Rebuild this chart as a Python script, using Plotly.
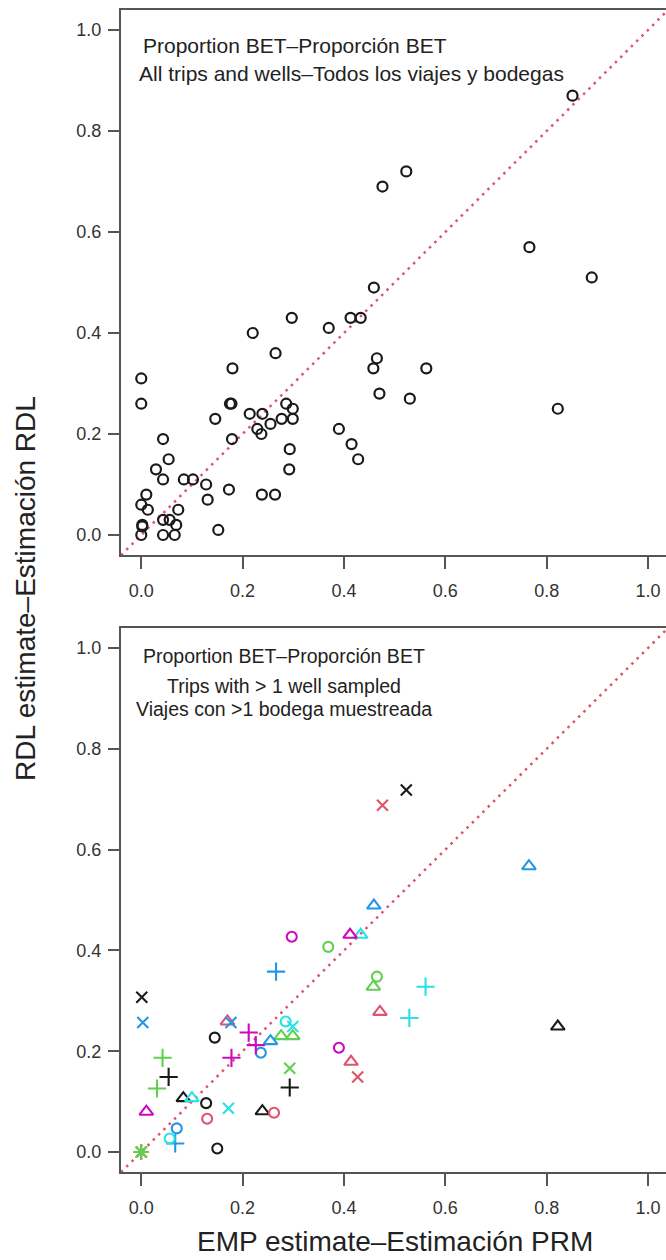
import plotly.graph_objects as go

# ---------------- data ----------------
# Top panel: all trips and wells (EMP estimate, RDL estimate)
top_emp = [0.0, 0.0, 0.18, 0.265, 0.22, 0.297, 0.37, 0.413, 0.433, 0.459,
           0.465, 0.458, 0.47, 0.766, 0.889, 0.5625, 0.53, 0.822, 0.523, 0.476,
           0.851, 0.175, 0.178, 0.286, 0.299, 0.146, 0.214, 0.239, 0.277, 0.299,
           0.255, 0.229, 0.237, 0.179, 0.043, 0.39, 0.415, 0.428, 0.293, 0.292,
           0.054, 0.029, 0.043, 0.084, 0.102, 0.128, 0.131, 0.173, 0.238, 0.264,
           0.152, 0.01, 0.0, 0.013, 0.073, 0.002, 0.002, 0.0, 0.043, 0.056,
           0.069, 0.043, 0.066]
top_rdl = [0.31, 0.26, 0.33, 0.36, 0.40, 0.43, 0.41, 0.43, 0.43, 0.49,
           0.35, 0.33, 0.28, 0.57, 0.51, 0.33, 0.27, 0.25, 0.72, 0.69,
           0.87, 0.26, 0.26, 0.26, 0.25, 0.23, 0.24, 0.24, 0.23, 0.23,
           0.22, 0.21, 0.20, 0.19, 0.19, 0.21, 0.18, 0.15, 0.17, 0.13,
           0.15, 0.13, 0.11, 0.11, 0.11, 0.10, 0.07, 0.09, 0.08, 0.08,
           0.01, 0.08, 0.06, 0.05, 0.05, 0.02, 0.017, 0.0, 0.03, 0.03,
           0.02, 0.0, 0.0]

# Bottom panel: trips with > 1 well sampled, by group (colour, symbol)
blk_x_emp = [0.001, 0.523];            blk_x_rdl = [0.307, 0.718]
blk_o_emp = [0.145, 0.128, 0.150];     blk_o_rdl = [0.227, 0.097, 0.007]
blk_t_emp = [0.083, 0.239, 0.822];     blk_t_rdl = [0.107, 0.081, 0.249]
blk_p_emp = [0.054, 0.293];            blk_p_rdl = [0.149, 0.128]

red_x_emp = [0.476, 0.427];            red_x_rdl = [0.688, 0.149]
red_o_emp = [0.130, 0.262];            red_o_rdl = [0.066, 0.078]
red_t_emp = [0.170, 0.471, 0.414];     red_t_rdl = [0.259, 0.278, 0.179]
red_s_emp = [0.0];                     red_s_rdl = [0.0]

grn_o_emp = [0.369, 0.465];            grn_o_rdl = [0.407, 0.348]
grn_t_emp = [0.458, 0.276, 0.299];     grn_t_rdl = [0.328, 0.230, 0.230]
grn_p_emp = [0.042, 0.031];            grn_p_rdl = [0.187, 0.126]
grn_x_emp = [0.293];                   grn_x_rdl = [0.166]
grn_s_emp = [0.0];                     grn_s_rdl = [0.0]

blu_t_emp = [0.459, 0.255, 0.765];     blu_t_rdl = [0.489, 0.220, 0.567]
blu_p_emp = [0.266, 0.067];            blu_p_rdl = [0.358, 0.017]
blu_x_emp = [0.003, 0.177];            blu_x_rdl = [0.257, 0.257]
blu_o_emp = [0.236, 0.070];            blu_o_rdl = [0.197, 0.047]

cyn_t_emp = [0.433, 0.100];            cyn_t_rdl = [0.431, 0.107]
cyn_o_emp = [0.285, 0.056];            cyn_o_rdl = [0.259, 0.027]
cyn_x_emp = [0.299, 0.172];            cyn_x_rdl = [0.249, 0.087]
cyn_p_emp = [0.561, 0.529];            cyn_p_rdl = [0.328, 0.266]

mag_o_emp = [0.297, 0.390];            mag_o_rdl = [0.427, 0.207]
mag_t_emp = [0.412, 0.010];            mag_t_rdl = [0.431, 0.080]
mag_p_emp = [0.212, 0.178, 0.226];     mag_p_rdl = [0.237, 0.187, 0.212]

diag = [-0.04, 1.04]
ticks = [0.0, 0.2, 0.4, 0.6, 0.8, 1.0]

# ---------------- style ----------------
FONT = "Liberation Sans, Arial, sans-serif"
BLACK = "#1a1a1a"
RED = "#DF536B"
GREEN = "#61D04F"
BLUE = "#2297E6"
CYAN = "#28E2E5"
MAGENTA = "#CD0BBC"
SYM = {"o": ("circle-open", 10), "t": ("triangle-up-open", 12),
       "p": ("cross-thin-open", 13), "x": ("x-thin-open", 11),
       "s": ("asterisk-open", 13)}

fig = go.Figure()

# top panel
fig.add_trace(go.Scatter(x=diag, y=diag, mode="lines", xaxis="x", yaxis="y",
                         line=dict(color=RED, width=2.5, dash="2.5px,5px"),
                         hoverinfo="skip", showlegend=False))
fig.add_trace(go.Scatter(x=top_emp, y=top_rdl, mode="markers", xaxis="x", yaxis="y",
                         marker=dict(symbol="circle-open", size=10, color=BLACK,
                                     line=dict(width=2.2, color=BLACK)),
                         showlegend=False))

# bottom panel
fig.add_trace(go.Scatter(x=diag, y=diag, mode="lines", xaxis="x2", yaxis="y2",
                         line=dict(color=RED, width=2.5, dash="2.5px,5px"),
                         hoverinfo="skip", showlegend=False))

groups = [
    (BLACK, "x", blk_x_emp, blk_x_rdl), (BLACK, "o", blk_o_emp, blk_o_rdl),
    (BLACK, "t", blk_t_emp, blk_t_rdl), (BLACK, "p", blk_p_emp, blk_p_rdl),
    (RED, "x", red_x_emp, red_x_rdl), (RED, "o", red_o_emp, red_o_rdl),
    (RED, "t", red_t_emp, red_t_rdl), (RED, "s", red_s_emp, red_s_rdl),
    (GREEN, "o", grn_o_emp, grn_o_rdl), (GREEN, "t", grn_t_emp, grn_t_rdl),
    (GREEN, "p", grn_p_emp, grn_p_rdl), (GREEN, "x", grn_x_emp, grn_x_rdl),
    (GREEN, "s", grn_s_emp, grn_s_rdl),
    (BLUE, "t", blu_t_emp, blu_t_rdl), (BLUE, "p", blu_p_emp, blu_p_rdl),
    (BLUE, "x", blu_x_emp, blu_x_rdl), (BLUE, "o", blu_o_emp, blu_o_rdl),
    (CYAN, "t", cyn_t_emp, cyn_t_rdl), (CYAN, "o", cyn_o_emp, cyn_o_rdl),
    (CYAN, "x", cyn_x_emp, cyn_x_rdl), (CYAN, "p", cyn_p_emp, cyn_p_rdl),
    (MAGENTA, "o", mag_o_emp, mag_o_rdl), (MAGENTA, "t", mag_t_emp, mag_t_rdl),
    (MAGENTA, "p", mag_p_emp, mag_p_rdl),
]
for col, s, xs, ys in groups:
    sym, sz = SYM[s]
    fig.add_trace(go.Scatter(x=xs, y=ys, mode="markers", xaxis="x2", yaxis="y2",
                             marker=dict(symbol=sym, size=sz, color=col,
                                         line=dict(width=2.1, color=col)),
                             showlegend=False))

W, H = 666, 1260
xdom = [121 / W, 1.0]
xr = [-0.04, (666 - 141) / 507]
yr = [-0.04, 1.04]
top_dom = [1 - 555.2 / H, 1 - 9.8 / H]
bot_dom = [1 - 1172.2 / H, 1 - 627.8 / H]

axis_common = dict(showline=True, linecolor="#555555", linewidth=2,
                   ticks="outside", tickcolor="#555555", tickwidth=2,
                   tickvals=ticks, tickformat=".1f", showgrid=False,
                   zeroline=False, tickfont=dict(family=FONT, size=18, color="#333333"))

fig.update_layout(
    width=W, height=H, margin=dict(l=0, r=0, t=0, b=0),
    paper_bgcolor="white", plot_bgcolor="white",
    font=dict(family=FONT, color="#222222"),
    xaxis=dict(domain=xdom, range=xr, anchor="y", mirror=True, ticklen=12,
               ticklabelstandoff=6, **axis_common),
    yaxis=dict(domain=top_dom, range=yr, anchor="x", ticklen=11,
               ticklabelstandoff=3, **axis_common),
    xaxis2=dict(domain=xdom, range=xr, anchor="y2", mirror=True, ticklen=12,
                ticklabelstandoff=6, **axis_common),
    yaxis2=dict(domain=bot_dom, range=yr, anchor="x2", ticklen=11,
                ticklabelstandoff=3, **axis_common),
)

ann = [
    dict(text="Proportion BET\u2013Proporción BET", x=0.0, y=0.970, xref="x", yref="y",
         xanchor="left", yanchor="middle", font=dict(size=21)),
    dict(text="All trips and wells\u2013Todos los viajes y bodegas", x=-0.009, y=0.913,
         xref="x", yref="y", xanchor="left", yanchor="middle", font=dict(size=21)),
    dict(text="Proportion BET\u2013Proporción BET", x=0.282, y=0.984, xref="x2", yref="y2",
         xanchor="center", yanchor="middle", font=dict(size=19.5)),
    dict(text="Trips with > 1 well sampled", x=0.282, y=0.925, xref="x2", yref="y2",
         xanchor="center", yanchor="middle", font=dict(size=19.5)),
    dict(text="Viajes con >1 bodega muestreada", x=0.282, y=0.879, xref="x2", yref="y2",
         xanchor="center", yanchor="middle", font=dict(size=19.5)),
    dict(text="EMP estimate\u2013Estimación PRM", x=0.5, y=1 - 1241 / H, xref="x2",
         yref="paper", xanchor="center", yanchor="middle", font=dict(size=28)),
    dict(text="RDL estimate\u2013Estimación RDL", x=25 / W, y=1 - 589 / H, xref="paper",
         yref="paper", xanchor="center", yanchor="middle", textangle=-90,
         font=dict(size=28)),
]
for a in ann:
    a["showarrow"] = False
    fig.add_annotation(**a)

fig.write_html("out.html")
